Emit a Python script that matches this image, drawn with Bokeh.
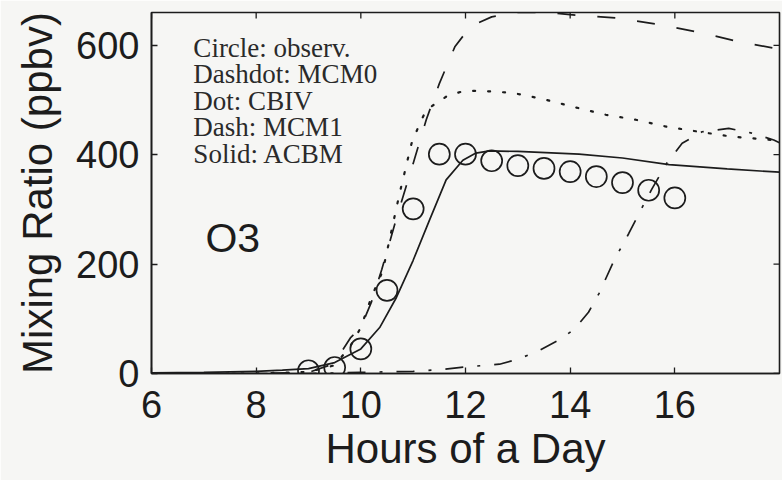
import math
from bokeh.plotting import figure
from bokeh.models import Range1d, FixedTicker, Label
from bokeh.embed import file_html
from bokeh.resources import INLINE

# ---- data ----
obs_hours = [9.0, 9.5, 10.0, 10.5, 11.0, 11.5, 12.0, 12.5, 13.0, 13.5, 14.0, 14.5, 15.0, 15.5, 16.0]
obs_o3 = [5, 11, 45, 152, 301, 401, 401, 389, 380, 375, 369, 360, 349, 335, 321]

acbm_hours = [6.0, 7.0, 8.0, 8.5, 9.0, 9.5, 10.0, 10.36, 10.68, 11.0, 11.31, 11.63, 11.95, 12.2, 12.46, 13.0, 14.17, 15.0, 15.89, 17.0, 18.0]
acbm_o3 = [1, 2, 4, 6, 9, 20, 45, 84, 139, 207, 280, 354, 390, 403, 407, 406, 401, 394, 382, 374, 368]

mcm1_hours = [6.0, 8.0, 9.0, 9.4, 9.6, 9.8, 10.0, 10.2, 10.4, 10.7, 11.0, 11.25, 11.5, 11.8, 12.1, 12.5, 13.0, 13.6, 14.0, 14.9, 15.7, 16.5, 17.25, 18.0]
mcm1_o3 = [0, 0, 2, 15, 35, 65, 84, 130, 190, 290, 384, 464, 530, 598, 635, 652, 660, 660, 656, 650, 638, 623, 606, 593]

cbiv_hours = [6.0, 8.0, 9.0, 9.5, 9.8, 10.0, 10.2, 10.42, 10.74, 10.97, 11.1, 11.25, 11.66, 11.95, 12.27, 12.9, 13.47, 14.04, 14.68, 15.25, 15.85, 16.46, 17.09, 17.85, 18.0]
cbiv_o3 = [0, 0, 3, 15, 50, 84, 139, 188, 329, 421, 451, 482, 508, 516, 517, 513, 502, 488, 473, 464, 451, 442, 433, 427, 425]

mcm0_hours = [6.0, 9.0, 10.0, 11.0, 11.5, 12.0, 12.65, 13.0, 13.41, 13.8, 14.08, 14.35, 14.55, 14.84, 15.12, 15.35, 15.56, 15.85, 16.14, 16.52, 17.03, 17.45, 17.89, 18.0]
mcm0_o3 = [0, 0, 2, 4, 7, 12, 17, 26, 42, 62, 81, 112, 146, 207, 256, 299, 337, 385, 421, 442, 448, 440, 427, 422]

x_ticks = [6, 8, 10, 12, 14, 16]
y_ticks = [0, 200, 400, 600]
legend_lines = ["Circle: observ.", "Dashdot: MCM0", "Dot: CBIV", "Dash: MCM1", "Solid: ACBM"]
legend_y = [596, 547, 498, 450, 401]
species = "O3"

X_MIN, X_MAX = 6, 18
Y_MIN, Y_MAX = 0, 660

INK = "#1c1c1c"
BG = "#f6f6f4"

p = figure(width=782, height=480, output_backend="svg", toolbar_location=None,
           x_range=Range1d(X_MIN, X_MAX), y_range=Range1d(Y_MIN, Y_MAX),
           min_border_left=151, min_border_right=3, min_border_top=12, min_border_bottom=107,
           background_fill_color=BG, border_fill_color=BG)
p.grid.visible = False
p.outline_line_color = INK
p.outline_line_width = 1.6

for ax, tk in ((p.xaxis[0], x_ticks), (p.yaxis[0], y_ticks)):
    ax.ticker = FixedTicker(ticks=tk)
    ax.major_tick_in = 6
    ax.major_tick_out = 0
    ax.minor_tick_line_color = None
    ax.axis_line_color = INK
    ax.axis_line_width = 1.6
    ax.major_tick_line_color = INK
    ax.major_tick_line_width = 1.3
    ax.major_label_text_font = "Liberation Sans"
    ax.major_label_text_font_size = "38px"
    ax.major_label_text_color = INK
    ax.axis_label_text_font = "Liberation Sans"
    ax.axis_label_text_font_size = "42px"
    ax.axis_label_text_font_style = "normal"
    ax.axis_label_text_color = INK

p.xaxis[0].axis_label = "Hours of a Day"
p.yaxis[0].axis_label = "Mixing Ratio (ppbv)"
p.xaxis[0].major_label_standoff = 17
p.xaxis[0].axis_label_standoff = 4
p.yaxis[0].major_label_standoff = 12
p.yaxis[0].axis_label_standoff = 12

# mirrored inward ticks on the top and right edges of the box
p.ray(x=x_ticks, y=[Y_MAX] * len(x_ticks), length=6, length_units="screen",
      angle=-math.pi / 2, line_color=INK, line_width=1.3)
p.ray(x=[X_MAX] * len(y_ticks), y=y_ticks, length=6, length_units="screen",
      angle=math.pi, line_color=INK, line_width=1.3)

lw = 1.7
p.line(mcm0_hours, mcm0_o3, line_color=INK, line_width=lw, line_dash="18 14 3 14")
p.line(cbiv_hours, cbiv_o3, line_color=INK, line_width=2.2, line_dash="2 13", line_cap="round")
p.line(mcm1_hours, mcm1_o3, line_color=INK, line_width=lw, line_dash="18 22")
p.line(acbm_hours, acbm_o3, line_color=INK, line_width=lw)
p.scatter(obs_hours, obs_o3, marker="circle", size=21, fill_color=None,
          line_color=INK, line_width=1.7)

for txt, yy in zip(legend_lines, legend_y):
    p.add_layout(Label(x=6.80, y=yy, text=txt, text_font="Liberation Serif",
                       text_font_size="27px", text_color="#2a2a2a",
                       text_baseline="alphabetic"))
p.add_layout(Label(x=7.03, y=247, text=species, text_font="Liberation Sans",
                   text_font_size="41px", text_color=INK, text_baseline="alphabetic"))

open("out.html", "w").write(file_html(p, INLINE))
